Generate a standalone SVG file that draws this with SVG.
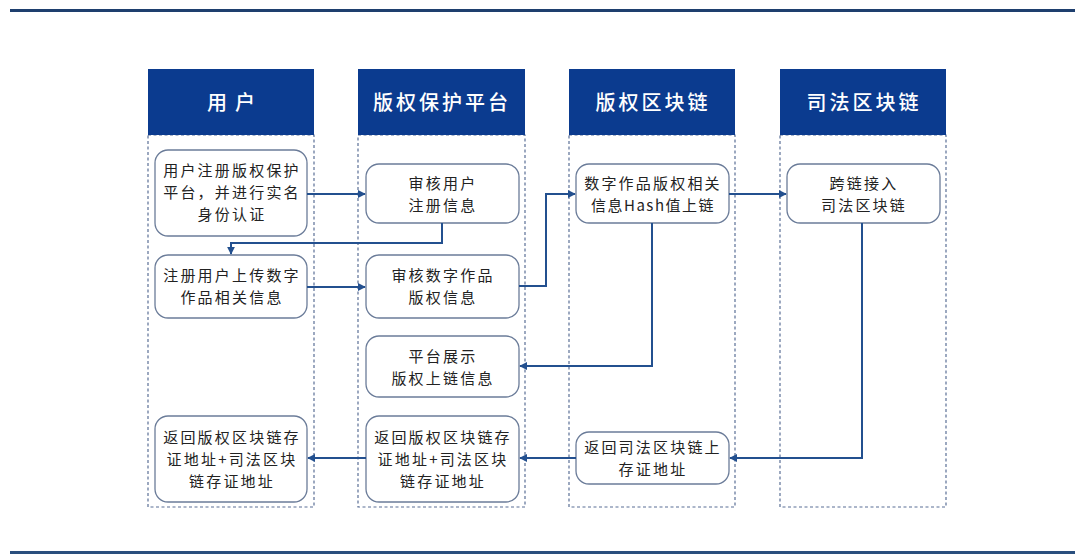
<svg xmlns="http://www.w3.org/2000/svg" width="1080" height="555" viewBox="0 0 1080 555">
<defs>
<style>
.lane{fill:none;stroke:#5a6f96;stroke-width:1.2;stroke-dasharray:3,2.5}
.hdr{fill:#0b3b8f}
.ht{fill:#ffffff;font-family:"Noto Sans CJK SC","Noto Sans",sans-serif;font-size:20px;font-weight:500;text-anchor:middle;letter-spacing:3px}
.box{fill:#ffffff;stroke:#6b7c99;stroke-width:1.3}
.nt{fill:#222;font-family:"Noto Sans CJK SC","Noto Sans",sans-serif;font-size:15px;text-anchor:middle;letter-spacing:2.2px}
.con{fill:none;stroke:#23508f;stroke-width:2;marker-end:url(#ah)}
</style>
<marker id="ah" viewBox="0 0 10 10" refX="9" refY="5" markerWidth="4" markerHeight="4" orient="auto" markerUnits="strokeWidth">
<path d="M0,0 L10,5 L0,10 z" fill="#23508f"/>
</marker>
</defs>
<rect width="1080" height="555" fill="#ffffff"/>
<rect x="10" y="9" width="1065" height="3" fill="#1e3f6e"/>
<rect x="10" y="551" width="1065" height="3" fill="#2a4f7e"/>

<g id="lane-user">
<rect class="lane" x="148" y="135" width="166" height="372"/>
<rect class="hdr" x="148" y="69" width="166" height="66"/>
<text class="ht" x="235" y="110" style="letter-spacing:8px">用户</text>
</g>
<g id="lane-platform">
<rect class="lane" x="358" y="135" width="167" height="372"/>
<rect class="hdr" x="358" y="69" width="167" height="66"/>
<text class="ht" x="442" y="110">版权保护平台</text>
</g>
<g id="lane-copyright-chain">
<rect class="lane" x="569" y="135" width="166" height="372"/>
<rect class="hdr" x="569" y="69" width="166" height="66"/>
<text class="ht" x="653" y="110">版权区块链</text>
</g>
<g id="lane-judicial-chain">
<rect class="lane" x="780" y="135" width="166" height="372"/>
<rect class="hdr" x="780" y="69" width="166" height="66"/>
<text class="ht" x="864" y="110">司法区块链</text>
</g>

<g id="n1">
<rect class="box" x="155" y="150" width="152" height="86" rx="13"/>
<text class="nt" x="232" y="176">用户注册版权保护</text>
<text class="nt" x="232" y="198">平台，并进行实名</text>
<text class="nt" x="232" y="220">身份认证</text>
</g>
<g id="n2">
<rect class="box" x="366" y="164" width="153" height="59" rx="13"/>
<text class="nt" x="443" y="189">审核用户</text>
<text class="nt" x="443" y="211">注册信息</text>
</g>
<g id="n3">
<rect class="box" x="576" y="164" width="153" height="59" rx="13"/>
<text class="nt" x="653" y="189">数字作品版权相关</text>
<text class="nt" x="653" y="211" style="letter-spacing:1.5px">信息Hash值上链</text>
</g>
<g id="n4">
<rect class="box" x="787" y="164" width="153" height="59" rx="13"/>
<text class="nt" x="864" y="189">跨链接入</text>
<text class="nt" x="864" y="211">司法区块链</text>
</g>
<g id="n5">
<rect class="box" x="155" y="255" width="152" height="63" rx="13"/>
<text class="nt" x="232" y="281">注册用户上传数字</text>
<text class="nt" x="232" y="303">作品相关信息</text>
</g>
<g id="n6">
<rect class="box" x="366" y="255" width="153" height="63" rx="13"/>
<text class="nt" x="443" y="281">审核数字作品</text>
<text class="nt" x="443" y="303">版权信息</text>
</g>
<g id="n7">
<rect class="box" x="366" y="336" width="153" height="61" rx="13"/>
<text class="nt" x="443" y="362">平台展示</text>
<text class="nt" x="443" y="384">版权上链信息</text>
</g>
<g id="n8">
<rect class="box" x="155" y="416" width="152" height="86" rx="13"/>
<text class="nt" x="232" y="443">返回版权区块链存</text>
<text class="nt" x="232" y="465">证地址+司法区块</text>
<text class="nt" x="232" y="487">链存证地址</text>
</g>
<g id="n9">
<rect class="box" x="366" y="416" width="153" height="86" rx="13"/>
<text class="nt" x="443" y="443">返回版权区块链存</text>
<text class="nt" x="443" y="465">证地址+司法区块</text>
<text class="nt" x="443" y="487">链存证地址</text>
</g>
<g id="n10">
<rect class="box" x="576" y="432" width="153" height="52" rx="13"/>
<text class="nt" x="653" y="453">返回司法区块链上</text>
<text class="nt" x="653" y="475">存证地址</text>
</g>

<g id="connectors">
<path class="con" d="M307,194 H365"/>
<path class="con" d="M442,223 V243 H231 V254"/>
<path class="con" d="M307,287 H365"/>
<path class="con" d="M519,286 H546 V194 H575"/>
<path class="con" d="M729,194 H786"/>
<path class="con" d="M652,223 V366 H520"/>
<path class="con" d="M862,223 V458 H730"/>
<path class="con" d="M576,458 H520"/>
<path class="con" d="M366,458 H308"/>
</g>
</svg>
